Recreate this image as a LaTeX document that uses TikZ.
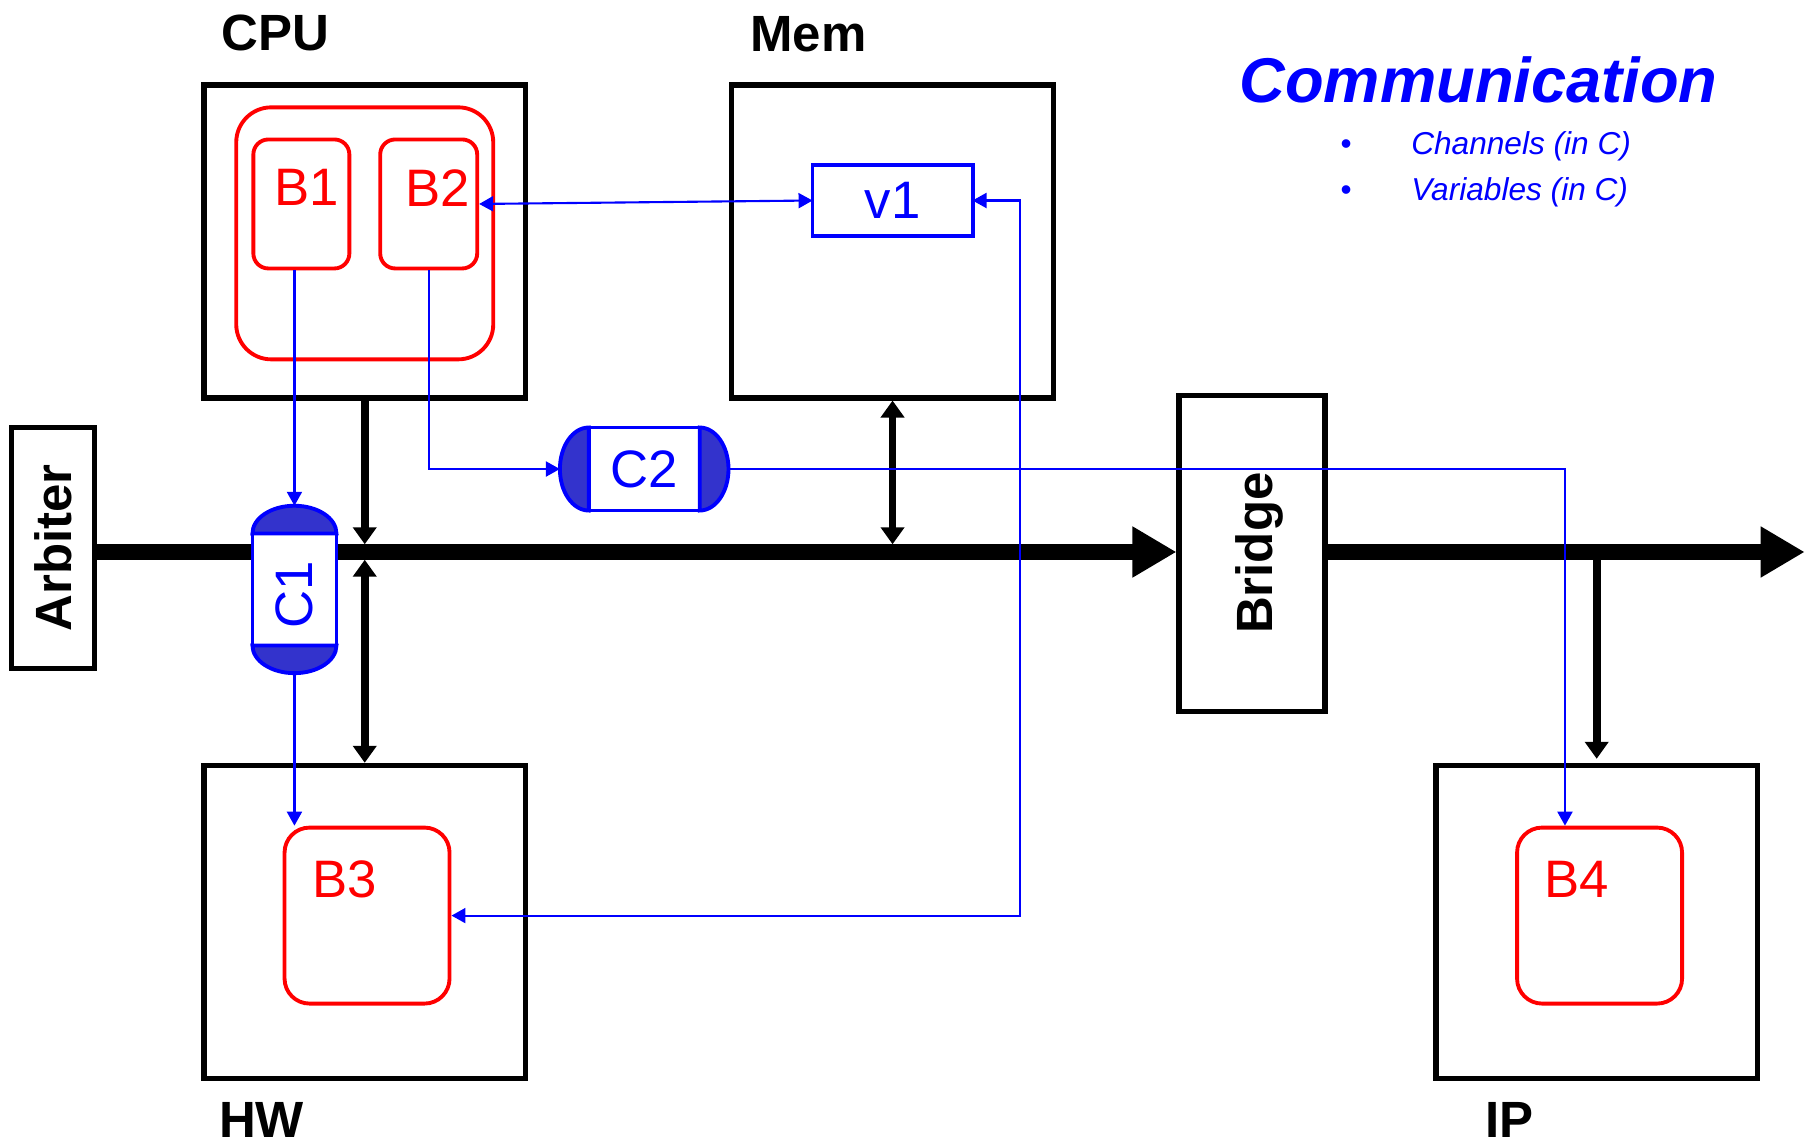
\documentclass[tikz,border=0pt]{standalone}
\usepackage{fontspec}
\setmainfont{Liberation Sans}
\usepackage{xcolor}
\usepackage{tikz}
\usetikzlibrary{arrows.meta}
\definecolor{chanfill}{RGB}{51,51,204}

\begin{document}
\begin{tikzpicture}[x=1.1524mm,y=1.1524mm,
  hwunit/.style={draw,line width=1.5pt,minimum width=32.15mm,minimum height=31.3mm},
  unitname/.style={font=\fontsize{14.5}{17}\selectfont\bfseries},
  beh/.style={draw=red,line width=1.1pt,rounded corners=#1},
  beh/.default=1.5mm,
  behname/.style={text=red,font=\fontsize{15}{18}\selectfont},
  chan/.style={draw=blue,line width=1.1pt,fill=white,text=blue,outer sep=0pt,font=\fontsize{15}{18}\selectfont},
  capfill/.style={draw=blue,line width=1.1pt,fill=chanfill},
  bus/.style={line width=4.3pt,-{Triangle[length=4.4mm,width=4.8mm]}},
  link/.style={line width=2.2pt,>={Triangle[length=1.7mm,width=2.3mm]}},
  msg/.style={blue,line width=0.6pt,>={Triangle[length=1.4mm,width=1.5mm]}}]
  \useasboundingbox (0,0) rectangle (156.8,99.2);
  \foreach \n/\x/\y/\t/\tx/\ty in {cpu/31.65/78.25/CPU/23.9/96.3,mem/77.45/78.25/Mem/70.15/96.2,hw/31.65/19.2/HW/22.7/2.0,ip/138.55/19.2/IP/131.0/2.0}{
    \node[hwunit] (\n) at (\x,\y) {};
    \node[unitname] (\n-name) at (\tx,\ty) {\t};
  }
  \node[draw,line width=1.5pt,unitname,minimum width=8.3mm,minimum height=24.1mm] (arbiter) at (4.6,51.65) {\rotatebox{90}{Arbiter}};
  \node[draw,line width=1.5pt,unitname,minimum width=14.6mm,minimum height=31.6mm] (bridge) at (108.65,51.2) {\hspace*{1.4mm}\rotatebox{90}{Bridge}};

  \node[beh=3.5mm,minimum width=25.7mm,minimum height=25.2mm] (cpugrp) at (31.65,78.95) {};
  \foreach \n/\x/\w in {b1/26.15/9.6mm,b2/37.2/9.7mm}
    \node[beh,minimum width=\w,minimum height=12.9mm] (\n) at (\x,81.5) {};
  \foreach \n/\x in {b3/31.85,b4/138.8}
    \node[beh=2.5mm,minimum width=16.5mm,minimum height=17.6mm] (\n) at (\x,19.75) {};
  \foreach \n/\t/\x/\y in {b1/B1/26.6/82.9,b2/B2/38.0/82.9,b3/B3/29.9/22.9,b4/B4/136.8/22.9}
    \node[behname] (\n-name) at (\x,\y) {\t};
  \node[chan,minimum width=16mm,minimum height=7.1mm] (v1) at (77.45,81.8) {v1};

  \coordinate (bus) at (0,51.3);
  \coordinate (busend) at (156.6,51.3);
  \draw[bus] (arbiter.east |- bus) -- (bridge.west |- bus);
  \draw[bus] (bridge.east |- bus) -- (busend);
  \draw[link,->,shorten >=2.2pt] (cpu.south) -- (cpu.south |- bus);
  \draw[link,<->,shorten <=2.2pt] (hw.north |- bus) -- (hw.north);
  \draw[link,<->,shorten >=2.2pt] (mem.south) -- (mem.south |- bus);
  \draw[link,->,shorten >=0.4mm] (ip.north |- bus) -- (ip.north);

  \node[chan,minimum width=8.4mm,minimum height=11.2mm] (c1) at (25.55,48.05) {\rotatebox{90}{C1\hspace*{1mm}}};
  \filldraw[capfill] (c1.north west) arc[start angle=180,end angle=0,x radius=4.2mm,y radius=2.77mm] -- cycle;
  \filldraw[capfill] (c1.south west) arc[start angle=180,end angle=360,x radius=4.2mm,y radius=2.77mm] -- cycle;
  \node[chan,minimum width=11.1mm,minimum height=8.3mm] (c2) at (55.9,58.5) {C2};
  \filldraw[capfill] (c2.north west) arc[start angle=90,end angle=270,x radius=2.88mm,y radius=4.15mm] -- cycle;
  \filldraw[capfill] (c2.north east) arc[start angle=90,end angle=-90,x radius=2.88mm,y radius=4.15mm] -- cycle;
  \path (c1.north) ++(0,2.4) coordinate (c1in) (c1.south) ++(0,-2.4) coordinate (c1out)
        (c2.west) ++(-2.5,0) coordinate (c2in) (c2.east) ++(2.5,0) coordinate (c2out);

  \draw[msg,->] (b1.south -| c1in) -- (c1in);
  \draw[msg,->] (c1out) -- (c1out |- b3.north);
  \draw[msg,->] (b2.south) |- (c2in);
  \draw[msg,->] (c2out) -| ([xshift=-3.46mm]b4.north);
  \draw[msg,<->] (b2.east) -- (v1.west);
  \draw[msg,<->] (v1.east) -- ++(4.1,0) |- (b3.east);

  \node[text=blue,font=\fontsize{18}{21}\selectfont\bfseries\itshape] (comm) at (128.3,92.3) {Communication};
  \foreach \n/\y/\t in {chn/85.8/Channels (in C),vars/81.8/Variables (in C)}{
    \node[text=blue,font=\fontsize{9}{11}\selectfont,anchor=base,inner sep=0pt] (\n-dot) at (116.8,\y) {•};
    \node[text=blue,font=\fontsize{9}{11}\selectfont\itshape,anchor=base west,inner sep=0pt] (\n) at (122.4,\y) {\t};
  }
\end{tikzpicture}
\end{document}
